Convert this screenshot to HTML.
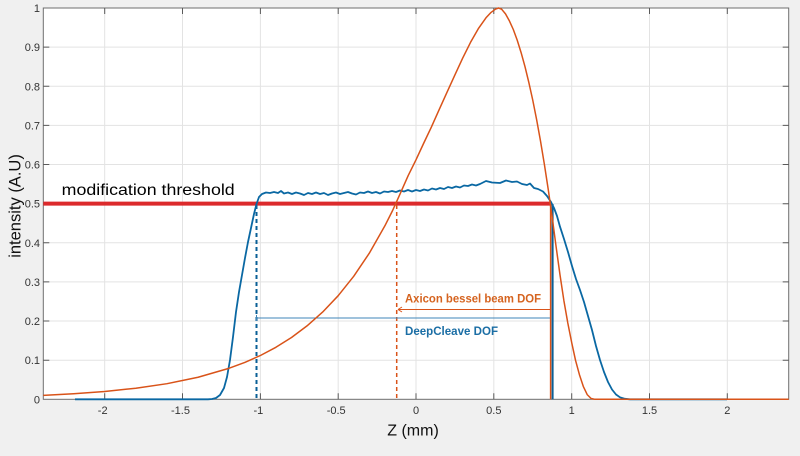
<!DOCTYPE html>
<html>
<head>
<meta charset="utf-8">
<style>
html,body{margin:0;padding:0;background:#f0f0f0;}
svg{display:block;}
text{font-family:"Liberation Sans",Arial,sans-serif;}
</style>
</head>
<body>
<svg width="800" height="456" viewBox="0 0 800 456" xmlns="http://www.w3.org/2000/svg">
<rect x="0" y="0" width="800" height="456" fill="#f0f0f0"/>
<rect x="43.3" y="8" width="745.4" height="391.3" fill="#ffffff"/>
<!-- grid -->
<g stroke="#e3e3e3" stroke-width="1">
<line x1="104.7" y1="8" x2="104.7" y2="399.3"/>
<line x1="182.5" y1="8" x2="182.5" y2="399.3"/>
<line x1="260.4" y1="8" x2="260.4" y2="399.3"/>
<line x1="338.2" y1="8" x2="338.2" y2="399.3"/>
<line x1="416" y1="8" x2="416" y2="399.3"/>
<line x1="493.8" y1="8" x2="493.8" y2="399.3"/>
<line x1="571.7" y1="8" x2="571.7" y2="399.3"/>
<line x1="649.5" y1="8" x2="649.5" y2="399.3"/>
<line x1="727.3" y1="8" x2="727.3" y2="399.3"/>
<line x1="43.3" y1="360.2" x2="788.7" y2="360.2"/>
<line x1="43.3" y1="321.0" x2="788.7" y2="321.0"/>
<line x1="43.3" y1="281.9" x2="788.7" y2="281.9"/>
<line x1="43.3" y1="242.8" x2="788.7" y2="242.8"/>
<line x1="43.3" y1="203.7" x2="788.7" y2="203.7"/>
<line x1="43.3" y1="164.5" x2="788.7" y2="164.5"/>
<line x1="43.3" y1="125.4" x2="788.7" y2="125.4"/>
<line x1="43.3" y1="86.3" x2="788.7" y2="86.3"/>
<line x1="43.3" y1="47.1" x2="788.7" y2="47.1"/>
</g>
<!-- axes box -->
<rect x="43.3" y="8" width="745.4" height="391.3" fill="none" stroke="#6e6e6e" stroke-width="1"/>
<!-- ticks -->
<g stroke="#5a5a5a" stroke-width="1">
<path d="M104.7 399.3v-6M182.5 399.3v-6M260.4 399.3v-6M338.2 399.3v-6M416 399.3v-6M493.8 399.3v-6M571.7 399.3v-6M649.5 399.3v-6M727.3 399.3v-6"/>
<path d="M104.7 8v6M182.5 8v6M260.4 8v6M338.2 8v6M416 8v6M493.8 8v6M571.7 8v6M649.5 8v6M727.3 8v6"/>
<path d="M43.3 360.2h6M43.3 321h6M43.3 281.9h6M43.3 242.8h6M43.3 203.7h6M43.3 164.5h6M43.3 125.4h6M43.3 86.3h6M43.3 47.1h6"/>
<path d="M788.7 360.2h-6M788.7 321h-6M788.7 281.9h-6M788.7 242.8h-6M788.7 203.7h-6M788.7 164.5h-6M788.7 125.4h-6M788.7 86.3h-6M788.7 47.1h-6"/>
</g>
<!-- y tick labels -->
<g font-size="11" fill="#333" text-anchor="end">
<text x="40" y="403.3">0</text>
<text x="40" y="364.2">0.1</text>
<text x="40" y="325">0.2</text>
<text x="40" y="285.9">0.3</text>
<text x="40" y="246.8">0.4</text>
<text x="40" y="207.7">0.5</text>
<text x="40" y="168.5">0.6</text>
<text x="40" y="129.4">0.7</text>
<text x="40" y="90.3">0.8</text>
<text x="40" y="51.1">0.9</text>
<text x="40" y="12">1</text>
</g>
<!-- x tick labels -->
<g font-size="11" fill="#333" text-anchor="middle">
<text x="102.7" y="414">-2</text>
<text x="180.5" y="414">-1.5</text>
<text x="258.4" y="414">-1</text>
<text x="336.2" y="414">-0.5</text>
<text x="416" y="414">0</text>
<text x="493.8" y="414">0.5</text>
<text x="571.7" y="414">1</text>
<text x="649.5" y="414">1.5</text>
<text x="727.3" y="414">2</text>
</g>
<!-- axis labels -->
<text x="413" y="435.5" font-size="16" fill="#111" text-anchor="middle">Z (mm)</text>
<text transform="translate(20.5,206) rotate(-90)" font-size="16.5" fill="#111" text-anchor="middle">intensity (A.U)</text>

<!-- threshold -->
<line x1="43.3" y1="203.6" x2="551.5" y2="203.6" stroke="#dc2a2c" stroke-width="4"/>
<text x="61.7" y="195" font-size="16" fill="#000" textLength="173" lengthAdjust="spacingAndGlyphs">modification  threshold</text>

<!-- dashed verticals -->
<line x1="256.5" y1="205" x2="256.5" y2="399.3" stroke="#0a5f96" stroke-width="2" stroke-dasharray="4,3"/>
<line x1="396.7" y1="205" x2="396.7" y2="399.3" stroke="#d95319" stroke-width="1.5" stroke-dasharray="4,3"/>

<!-- DOF lines -->
<line x1="398" y1="309.5" x2="551" y2="309.5" stroke="#d95319" stroke-width="1"/>
<path d="M398 309.5l4 -2.5M398 309.5l4 2.5" stroke="#d95319" stroke-width="1" fill="none"/>
<line x1="256.5" y1="318" x2="551" y2="318" stroke="#3f86b8" stroke-width="1"/>
<line x1="256.5" y1="315" x2="256.5" y2="321" stroke="#3f86b8" stroke-width="1"/>

<text x="405" y="302.5" font-size="12" font-weight="bold" fill="#d5631f" textLength="136" lengthAdjust="spacingAndGlyphs">Axicon bessel beam DOF</text>
<text x="405" y="335" font-size="12" font-weight="bold" fill="#1b6ea5" textLength="93" lengthAdjust="spacingAndGlyphs">DeepCleave DOF</text>

<!-- solid verticals at right end -->
<line x1="550.6" y1="204" x2="550.6" y2="399.3" stroke="#d95319" stroke-width="1.5"/>
<line x1="552.6" y1="204" x2="552.6" y2="399.3" stroke="#0a5f96" stroke-width="2"/>

<!-- blue curve -->
<polyline fill="none" stroke="#0a68a3" stroke-width="1.8" stroke-linejoin="round" points="
75,399.3 208,399.3 212,399 216,398 220,395 224,388 227,377 230,360 233,337 236,312 239,292 242,275 245,258 248,242 251,228 254,214 256.5,204 259,197 262,194
266,192.5 270,193 274,192 278,193 281,191 284,193.5 288,192.5 292,194 296,192.5 300,193.5 304,195 308,193 312,194 316,192.5 320,194 324,193 328,195 332,193.5 336,192.5 340,194 344,193 348,192 352,193.5 356,194.5 360,192.5 364,193 368,191.5 372,193 376,192 380,193.5 384,191.5 388,192 392,191 396,192 400,190.5 404,191.5 408,190 412,191.5 416,190 420,191 424,189.5 428,190.5 432,188.5 436,189.5 440,188 444,189 448,187 452,188 456,186.5 460,187.5 464,185.5 468,186 472,184.5 476,185.5 480,184 486,181 492,182.5 500,183 506,180.5 512,182 517,181.5 522,184 527,185 530,183.5 534,188 538,189 543,191.5 547,196 551,202
554,208 557,216 560,226.7 564,239 568,252 572,266 576,279 580,290 584,302 588,316 592,330 596,346 600,360 604,372 608,382 612,389.5 616,394.5 620,397.3 625,398.8 630,399.3 727,399.3"/>

<!-- orange curve -->
<polyline fill="none" stroke="#d95319" stroke-width="1.5" stroke-linejoin="round" points="
43.3,395.36 73.6,393.74 104.7,391.45 135.8,388.23 167,383.69 198.1,377.27 229.2,368.23 244.8,362.4 260.4,355.5 275.9,347.3 291.5,337.5 307,325.9 322.6,312.1 338.2,295.7 353.7,276.3 369.3,253.2 384.9,225.8 392.6,210.5 400.4,193.2 408.2,175.6 416,159.8 423.8,143 431.6,126.6 439.3,109.3 447.1,92.1 454.9,74.9 462.7,58.1 470.5,42.4 478.3,28.7 486,17.8 490.7,12.7 495.4,9.2 498.5,8.0 501.6,9.2 505.5,13.9 509.4,20.9 513.3,29.5 517.2,40.1 521.1,52.6 525,66.7 528.8,82.3 532.7,99.9 536.6,119.5 540.5,141 544.4,164.5 548.3,189.9 552.2,217.3 556.1,246.7 560,274.9 563.9,300.7 567.8,323 571.7,342.6 575.5,360.2 579.4,374.6 583.3,386.4 587.2,394.6 591.1,398.5 595,399.3 788.7,399.3"/>
</svg>
</body>
</html>
